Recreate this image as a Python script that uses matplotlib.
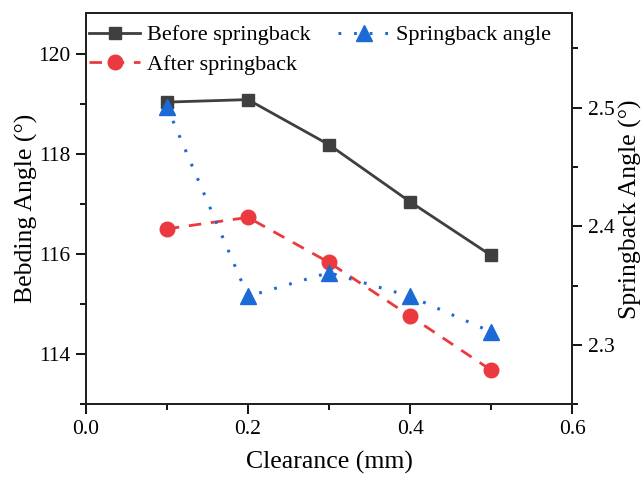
import matplotlib
matplotlib.use("Agg")
import matplotlib.pyplot as plt
from matplotlib.ticker import MultipleLocator

clearance = [0.1, 0.2, 0.3, 0.4, 0.5]
before = [119.03, 119.08, 118.18, 117.04, 115.97]
after = [116.50, 116.73, 115.83, 114.76, 113.68]
springback = [2.501, 2.341, 2.361, 2.341, 2.311]

plt.rcParams['font.family'] = ['Liberation Serif', 'DejaVu Serif']

fig = plt.figure(figsize=(6.42, 4.79), dpi=100)
ax = fig.add_axes([0.1335, 0.156, 0.758, 0.816])
ax2 = ax.twinx()

c_black = '#3f3f3f'
c_red = '#ea3a3f'
c_blue = '#1b6ad6'

l1, = ax.plot(clearance, before, color=c_black, lw=2, marker='s', ms=9,
              label='Before springback', zorder=3)
l2, = ax.plot(clearance, after, color=c_red, lw=2, marker='o', ms=10.5,
              dashes=(4.5, 3.5), label='After springback', zorder=3)
l3, = ax2.plot(clearance, springback, color=c_blue, lw=2.2, marker='^', ms=12,
               dashes=(0.9, 4.2), label='Springback angle', zorder=3)

ax.set_xlim(0, 0.6)
ax.set_ylim(113, 120.8)
ax2.set_ylim(2.25, 2.5795)

ax.xaxis.set_minor_locator(MultipleLocator(0.1))
ax.yaxis.set_minor_locator(MultipleLocator(1))
ax2.yaxis.set_minor_locator(MultipleLocator(0.05))

ax.set_xticks([0.0, 0.2, 0.4, 0.6])
ax.set_xticklabels(['0.0', '0.2', '0.4', '0.6'])
ax.set_yticks([114, 116, 118, 120])
ax2.set_yticks([2.3, 2.4, 2.5])
ax2.set_yticklabels(['2.3', '2.4', '2.5'])

for a in (ax, ax2):
    a.tick_params(which='major', direction='out', length=7, width=1.3,
                  labelsize=15.5, colors='black', pad=4)
    a.tick_params(which='minor', direction='out', length=4.5, width=1.3)
    for s in a.spines.values():
        s.set_linewidth(1.4)
        s.set_color('#222222')
ax.tick_params(axis='x', pad=4)

ax.set_xlabel('Clearance (mm)', fontsize=18.5, labelpad=9)
ax.set_ylabel('Bebding Angle (°)', fontsize=18.5, labelpad=0)
ax2.set_ylabel('Springback Angle (°)', fontsize=18.5, labelpad=3)

ax.legend(handles=[l1, l2, l3], loc='upper left', ncol=2, frameon=False,
          fontsize=16, bbox_to_anchor=(-0.02, 1.005), handlelength=2.3,
          handletextpad=0.3, columnspacing=1.25, labelspacing=0.42,
          borderaxespad=0.2)

fig.savefig('out.png', dpi=100)
